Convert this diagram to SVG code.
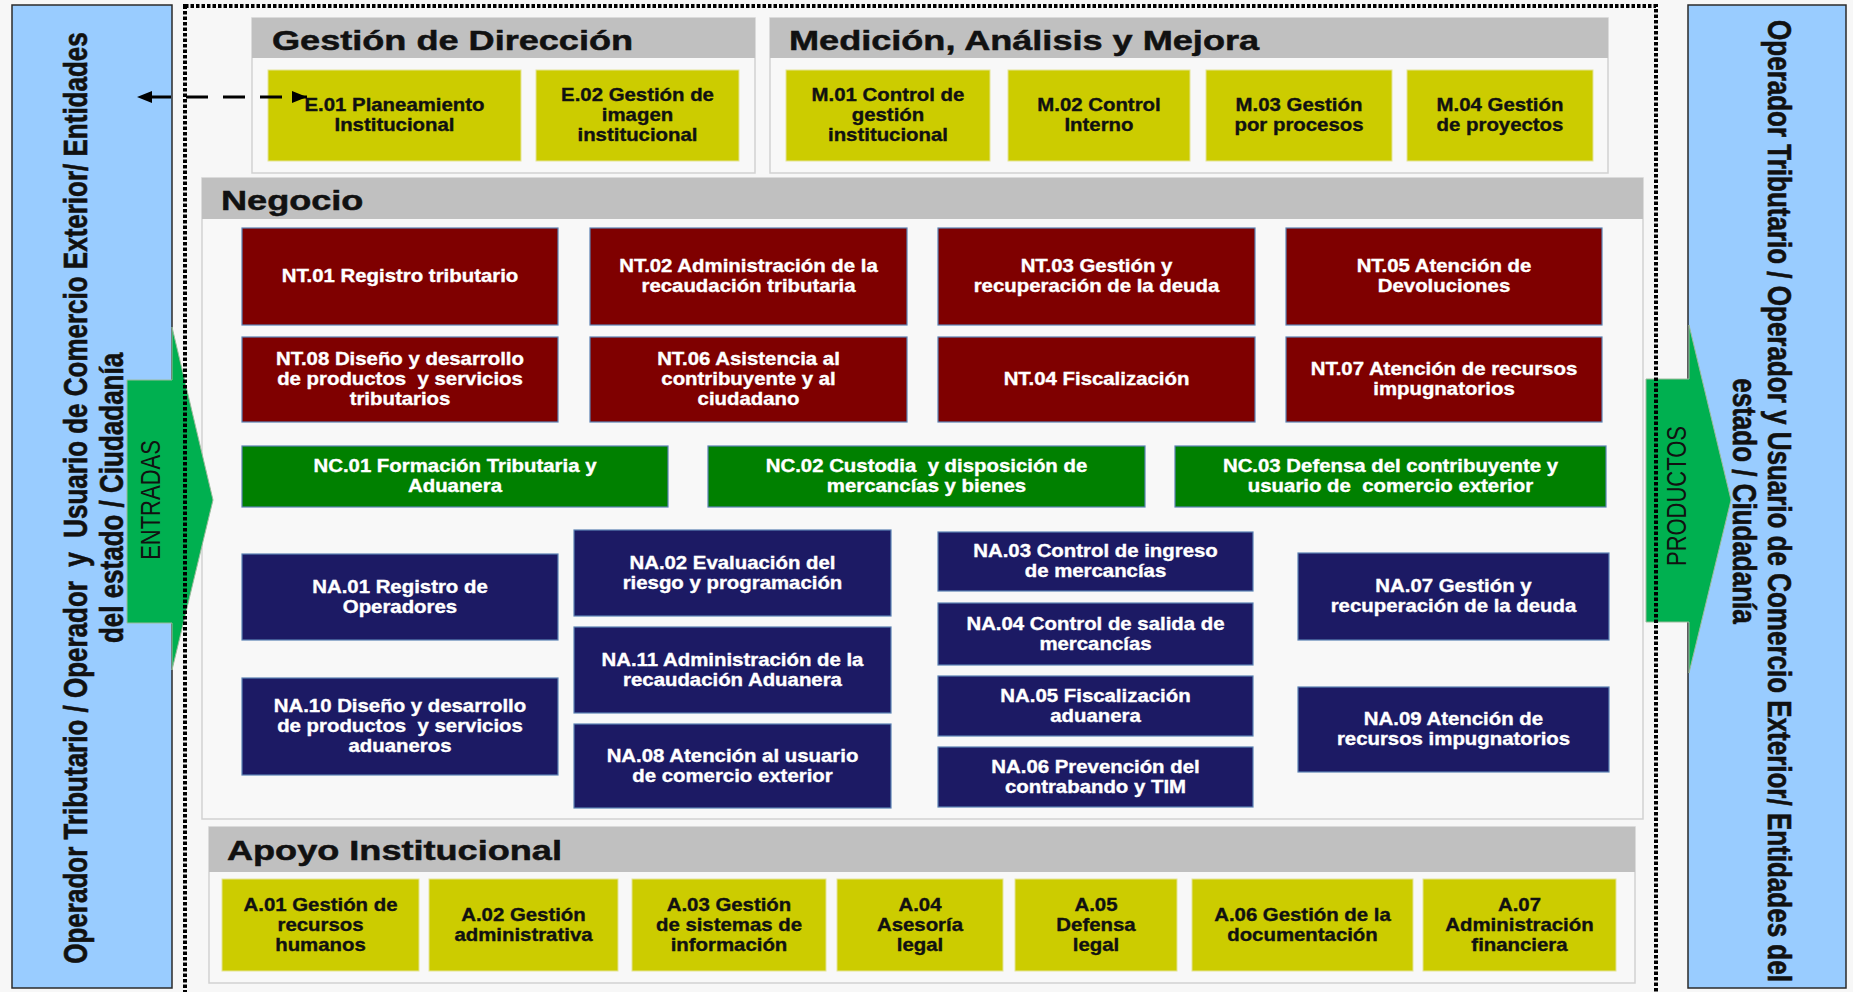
<svg xmlns="http://www.w3.org/2000/svg" width="1853" height="992" viewBox="0 0 1853 992">
<style>
.side{fill:#99CCFF;stroke:#2b2b2b;stroke-width:1.5}
.body{fill:#F8F8F8;stroke:#D2D2D2;stroke-width:1.5}
.hdr{fill:#C0C0C0}
.y{fill:#CCCC00;stroke:#E4E496;stroke-width:1}
.r{fill:#7F0000;stroke:#5B82B4;stroke-width:1.2}
.g{fill:#008000;stroke:#5B82B4;stroke-width:1.2}
.n{fill:#1C1A64;stroke:#5B82B4;stroke-width:1.2}
.bt{font-family:"Liberation Sans",Arial,sans-serif;font-weight:bold;font-size:17.5px;text-anchor:middle;stroke-width:0.35px}
.tw{fill:#FFFFFF;stroke:#FFFFFF}
.tk{fill:#111111;stroke:#111111}
.ht{font-family:"Liberation Sans",Arial,sans-serif;font-weight:bold;font-size:28px;fill:#111111;stroke:#111111;stroke-width:0.5px}
.st{font-family:"Liberation Sans",Arial,sans-serif;font-weight:bold;font-size:26px;text-anchor:middle;fill:#111111;stroke:#111111;stroke-width:0.5px}
.at{font-family:"Liberation Sans",Arial,sans-serif;font-size:22px;text-anchor:middle;fill:#111111}
.garrow{fill:#00B050;stroke:#9BBB9B;stroke-width:1}
.dots{fill:none;stroke:#000000;stroke-width:4;stroke-dasharray:3.5 2}
.conn{fill:none;stroke:#000000;stroke-width:3;stroke-dasharray:22 15;stroke-dashoffset:25}
</style>
<defs>
<marker id="ah" viewBox="0 0 10 10" refX="10" refY="5" markerWidth="15" markerHeight="12" markerUnits="userSpaceOnUse" orient="auto-start-reverse" preserveAspectRatio="none"><path d="M0,0 L10,5 L0,10 z" fill="#000000"/></marker>
</defs>
<rect x="0" y="0" width="1853" height="992" fill="#F7F7F7"/>

<g id="stakeholders-left"><rect class="side" x="12" y="5" width="160" height="983"/></g>
<g id="stakeholders-right"><rect class="side" x="1688" y="5" width="158" height="983"/></g>

<g id="gestion-direccion">
<rect class="body" x="252" y="18" width="503" height="155"/>
<rect class="hdr" x="252" y="18" width="503" height="40"/>
<text class="ht" x="272" y="50" transform="matrix(1.29 0 0 1 -78.88 0)">Gestión de Dirección</text>
</g>
<g id="E01"><rect class="y" x="268" y="70" width="253" height="91"/><text class="bt tk" transform="matrix(1.165 0 0 1 -65.09 0)"><tspan x="394.5" y="111.5">E.01 Planeamiento</tspan><tspan x="394.5" y="131.5">Institucional</tspan></text></g>
<g id="E02"><rect class="y" x="536" y="70" width="203" height="91"/><text class="bt tk" transform="matrix(1.165 0 0 1 -105.19 0)"><tspan x="637.5" y="101.5">E.02 Gestión de</tspan><tspan x="637.5" y="121.5">imagen</tspan><tspan x="637.5" y="141.5">institucional</tspan></text></g>

<g id="medicion">
<rect class="body" x="770" y="18" width="838" height="155"/>
<rect class="hdr" x="770" y="18" width="838" height="40"/>
<text class="ht" x="789" y="50" transform="matrix(1.29 0 0 1 -228.81 0)">Medición, Análisis y Mejora</text>
</g>
<g id="M01"><rect class="y" x="786" y="70" width="204" height="91"/><text class="bt tk" transform="matrix(1.165 0 0 1 -146.52 0)"><tspan x="888" y="101.5">M.01 Control de</tspan><tspan x="888" y="121.5">gestión</tspan><tspan x="888" y="141.5">institucional</tspan></text></g>
<g id="M02"><rect class="y" x="1008" y="70" width="182" height="91"/><text class="bt tk" transform="matrix(1.165 0 0 1 -181.34 0)"><tspan x="1099" y="111.5">M.02 Control</tspan><tspan x="1099" y="131.5">Interno</tspan></text></g>
<g id="M03"><rect class="y" x="1206" y="70" width="186" height="91"/><text class="bt tk" transform="matrix(1.165 0 0 1 -214.34 0)"><tspan x="1299" y="111.5">M.03 Gestión</tspan><tspan x="1299" y="131.5">por procesos</tspan></text></g>
<g id="M04"><rect class="y" x="1407" y="70" width="186" height="91"/><text class="bt tk" transform="matrix(1.165 0 0 1 -247.5 0)"><tspan x="1500" y="111.5">M.04 Gestión</tspan><tspan x="1500" y="131.5">de proyectos</tspan></text></g>

<g id="negocio">
<rect class="body" x="202" y="178" width="1441" height="641"/>
<rect class="hdr" x="202" y="178" width="1441" height="41"/>
<text class="ht" x="221" y="210" transform="matrix(1.29 0 0 1 -64.09 0)">Negocio</text>
</g>
<g id="NT01"><rect class="r" x="242" y="228" width="316" height="97"/><text class="bt tw" transform="matrix(1.165 0 0 1 -66 0)"><tspan x="400" y="282.5">NT.01 Registro tributario</tspan></text></g>
<g id="NT02"><rect class="r" x="590" y="228" width="317" height="97"/><text class="bt tw" transform="matrix(1.165 0 0 1 -123.5 0)"><tspan x="748.5" y="272.5">NT.02 Administración de la</tspan><tspan x="748.5" y="292.5">recaudación tributaria</tspan></text></g>
<g id="NT03"><rect class="r" x="938" y="228" width="317" height="97"/><text class="bt tw" transform="matrix(1.165 0 0 1 -180.92 0)"><tspan x="1096.5" y="272.5">NT.03 Gestión y</tspan><tspan x="1096.5" y="292.5">recuperación de la deuda</tspan></text></g>
<g id="NT05"><rect class="r" x="1286" y="228" width="316" height="97"/><text class="bt tw" transform="matrix(1.165 0 0 1 -238.26 0)"><tspan x="1444" y="272.5">NT.05 Atención de</tspan><tspan x="1444" y="292.5">Devoluciones</tspan></text></g>
<g id="NT08"><rect class="r" x="242" y="337" width="316" height="85"/><text class="bt tw" transform="matrix(1.165 0 0 1 -66 0)"><tspan x="400" y="365.5">NT.08 Diseño y desarrollo</tspan><tspan x="400" y="385.5">de productos&#160; y servicios</tspan><tspan x="400" y="405.5">tributarios</tspan></text></g>
<g id="NT06"><rect class="r" x="590" y="337" width="317" height="85"/><text class="bt tw" transform="matrix(1.165 0 0 1 -123.5 0)"><tspan x="748.5" y="365.5">NT.06 Asistencia al</tspan><tspan x="748.5" y="385.5">contribuyente y al</tspan><tspan x="748.5" y="405.5">ciudadano</tspan></text></g>
<g id="NT04"><rect class="r" x="938" y="337" width="317" height="85"/><text class="bt tw" transform="matrix(1.165 0 0 1 -180.92 0)"><tspan x="1096.5" y="385.5">NT.04 Fiscalización</tspan></text></g>
<g id="NT07"><rect class="r" x="1286" y="337" width="316" height="85"/><text class="bt tw" transform="matrix(1.165 0 0 1 -238.26 0)"><tspan x="1444" y="375.5">NT.07 Atención de recursos</tspan><tspan x="1444" y="395.5">impugnatorios</tspan></text></g>
<g id="NC01"><rect class="g" x="242" y="446" width="426" height="61"/><text class="bt tw" transform="matrix(1.165 0 0 1 -75.08 0)"><tspan x="455" y="472.5">NC.01 Formación Tributaria y</tspan><tspan x="455" y="492.5">Aduanera</tspan></text></g>
<g id="NC02"><rect class="g" x="708" y="446" width="437" height="61"/><text class="bt tw" transform="matrix(1.165 0 0 1 -152.87 0)"><tspan x="926.5" y="472.5">NC.02 Custodia&#160; y disposición de</tspan><tspan x="926.5" y="492.5">mercancías y bienes</tspan></text></g>
<g id="NC03"><rect class="g" x="1175" y="446" width="431" height="61"/><text class="bt tw" transform="matrix(1.165 0 0 1 -229.43 0)"><tspan x="1390.5" y="472.5">NC.03 Defensa del contribuyente y</tspan><tspan x="1390.5" y="492.5">usuario de&#160; comercio exterior</tspan></text></g>
<g id="NA01"><rect class="n" x="242" y="554" width="316" height="86"/><text class="bt tw" transform="matrix(1.165 0 0 1 -66 0)"><tspan x="400" y="593">NA.01 Registro de</tspan><tspan x="400" y="613">Operadores</tspan></text></g>
<g id="NA10"><rect class="n" x="242" y="678" width="316" height="97"/><text class="bt tw" transform="matrix(1.165 0 0 1 -66 0)"><tspan x="400" y="712.5">NA.10 Diseño y desarrollo</tspan><tspan x="400" y="732.5">de productos&#160; y servicios</tspan><tspan x="400" y="752.5">aduaneros</tspan></text></g>
<g id="NA02"><rect class="n" x="574" y="530" width="317" height="86"/><text class="bt tw" transform="matrix(1.165 0 0 1 -120.86 0)"><tspan x="732.5" y="569">NA.02 Evaluación del</tspan><tspan x="732.5" y="589">riesgo y programación</tspan></text></g>
<g id="NA11"><rect class="n" x="574" y="627" width="317" height="86"/><text class="bt tw" transform="matrix(1.165 0 0 1 -120.86 0)"><tspan x="732.5" y="666">NA.11 Administración de la</tspan><tspan x="732.5" y="686">recaudación Aduanera</tspan></text></g>
<g id="NA08"><rect class="n" x="574" y="724" width="317" height="84"/><text class="bt tw" transform="matrix(1.165 0 0 1 -120.86 0)"><tspan x="732.5" y="762">NA.08 Atención al usuario</tspan><tspan x="732.5" y="782">de comercio exterior</tspan></text></g>
<g id="NA03"><rect class="n" x="938" y="532" width="315" height="59"/><text class="bt tw" transform="matrix(1.165 0 0 1 -180.76 0)"><tspan x="1095.5" y="557.5">NA.03 Control de ingreso</tspan><tspan x="1095.5" y="577.5">de mercancías</tspan></text></g>
<g id="NA04"><rect class="n" x="938" y="603" width="315" height="62"/><text class="bt tw" transform="matrix(1.165 0 0 1 -180.76 0)"><tspan x="1095.5" y="630">NA.04 Control de salida de</tspan><tspan x="1095.5" y="650">mercancías</tspan></text></g>
<g id="NA05"><rect class="n" x="938" y="676" width="315" height="60"/><text class="bt tw" transform="matrix(1.165 0 0 1 -180.76 0)"><tspan x="1095.5" y="702">NA.05 Fiscalización</tspan><tspan x="1095.5" y="722">aduanera</tspan></text></g>
<g id="NA06"><rect class="n" x="938" y="747" width="315" height="60"/><text class="bt tw" transform="matrix(1.165 0 0 1 -180.76 0)"><tspan x="1095.5" y="773">NA.06 Prevención del</tspan><tspan x="1095.5" y="793">contrabando y TIM</tspan></text></g>
<g id="NA07"><rect class="n" x="1298" y="553" width="311" height="87"/><text class="bt tw" transform="matrix(1.165 0 0 1 -239.83 0)"><tspan x="1453.5" y="592.5">NA.07 Gestión y</tspan><tspan x="1453.5" y="612.5">recuperación de la deuda</tspan></text></g>
<g id="NA09"><rect class="n" x="1298" y="687" width="311" height="85"/><text class="bt tw" transform="matrix(1.165 0 0 1 -239.83 0)"><tspan x="1453.5" y="725.5">NA.09 Atención de</tspan><tspan x="1453.5" y="745.5">recursos impugnatorios</tspan></text></g>

<g id="apoyo">
<rect class="body" x="209" y="827" width="1426" height="156"/>
<rect class="hdr" x="209" y="827" width="1426" height="45"/>
<text class="ht" x="227" y="860" transform="matrix(1.29 0 0 1 -65.83 0)">Apoyo Institucional</text>
</g>
<g id="A01"><rect class="y" x="222" y="879" width="197" height="92"/><text class="bt tk" transform="matrix(1.165 0 0 1 -52.88 0)"><tspan x="320.5" y="911">A.01 Gestión de</tspan><tspan x="320.5" y="931">recursos</tspan><tspan x="320.5" y="951">humanos</tspan></text></g>
<g id="A02"><rect class="y" x="429" y="879" width="189" height="92"/><text class="bt tk" transform="matrix(1.165 0 0 1 -86.38 0)"><tspan x="523.5" y="921">A.02 Gestión</tspan><tspan x="523.5" y="941">administrativa</tspan></text></g>
<g id="A03"><rect class="y" x="632" y="879" width="194" height="92"/><text class="bt tk" transform="matrix(1.165 0 0 1 -120.29 0)"><tspan x="729" y="911">A.03 Gestión</tspan><tspan x="729" y="931">de sistemas de</tspan><tspan x="729" y="951">información</tspan></text></g>
<g id="A04"><rect class="y" x="837" y="879" width="166" height="92"/><text class="bt tk" transform="matrix(1.165 0 0 1 -151.8 0)"><tspan x="920" y="911">A.04</tspan><tspan x="920" y="931">Asesoría</tspan><tspan x="920" y="951">legal</tspan></text></g>
<g id="A05"><rect class="y" x="1015" y="879" width="162" height="92"/><text class="bt tk" transform="matrix(1.165 0 0 1 -180.84 0)"><tspan x="1096" y="911">A.05</tspan><tspan x="1096" y="931">Defensa</tspan><tspan x="1096" y="951">legal</tspan></text></g>
<g id="A06"><rect class="y" x="1192" y="879" width="221" height="92"/><text class="bt tk" transform="matrix(1.165 0 0 1 -214.91 0)"><tspan x="1302.5" y="921">A.06 Gestión de la</tspan><tspan x="1302.5" y="941">documentación</tspan></text></g>
<g id="A07"><rect class="y" x="1423" y="879" width="193" height="92"/><text class="bt tk" transform="matrix(1.165 0 0 1 -250.72 0)"><tspan x="1519.5" y="911">A.07</tspan><tspan x="1519.5" y="931">Administración</tspan><tspan x="1519.5" y="951">financiera</tspan></text></g>

<g id="entradas">
<polygon class="garrow" points="127,380 172,380 172,327 213,500 172,670 172,623 127,623"/>
<text class="at" transform="translate(160,500) scale(1.27,1) rotate(-90)">ENTRADAS</text>
</g>
<g id="productos">
<polygon class="garrow" points="1646,379 1689,379 1689,325 1731,500 1689,673 1689,622 1646,622"/>
<text class="at" transform="translate(1686,496) scale(1.27,1) rotate(-90)">PRODUCTOS</text>
</g>

<rect id="boundary" class="dots" x="185" y="6" width="1471" height="1000"/>

<g id="stakeholder-labels">
<text class="st" style="white-space:pre" transform="translate(87,498) scale(1.27,1) rotate(-90)">Operador Tributario / Operador  y  Usuario de Comercio Exterior/ Entidades</text>
<text class="st" transform="translate(123,498) scale(1.27,1) rotate(-90)">del estado / Ciudadanía</text>
<text class="st" transform="translate(1768,501) scale(1.27,1) rotate(90)">Operador Tributario / Operador y Usuario de Comercio Exterior/ Entidades del</text>
<text class="st" transform="translate(1733,501) scale(1.27,1) rotate(90)">estado / Ciudadanía</text>
</g>

<g id="connectors">
<line class="conn" x1="137" y1="97" x2="307" y2="97" marker-start="url(#ah)" marker-end="url(#ah)"/>
</g>
</svg>
